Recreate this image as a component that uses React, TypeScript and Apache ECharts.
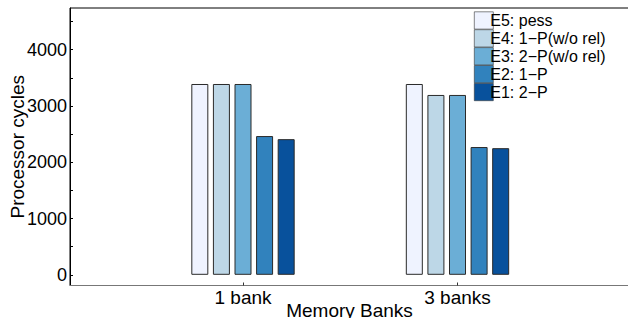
import React, { useEffect, useRef } from "react";
import * as echarts from "echarts";

const categories = ["1 bank", "3 banks"];
const categoryPositions = [1, 2];
const seriesNames = ["E5: pess", "E4: 1−P(w/o rel)", "E3: 2−P(w/o rel)", "E2: 1−P", "E1: 2−P"];
const e5Values = [3390, 3390];
const e4Values = [3390, 3195];
const e3Values = [3390, 3195];
const e2Values = [2465, 2270];
const e1Values = [2410, 2250];
const seriesColors = ["#eff3ff", "#bdd7e7", "#6baed6", "#3182bd", "#08519c"];
const yTickLabels = [0, 1000, 2000, 3000, 4000];
const yMinorTicks = [0, 500, 1000, 1500, 2000, 2500, 3000, 3500, 4000, 4500];

const FONT = "Liberation Sans, Arial, Helvetica, sans-serif";

export default function App() {
  const ref = useRef<HTMLDivElement>(null);
  useEffect(() => {
    if (!ref.current) return;
    const chart = echarts.init(ref.current, null, { renderer: "svg" });
    const allValues = [e5Values, e4Values, e3Values, e2Values, e1Values];
    const series = allValues.map((vals, i) => ({
      type: "bar",
      name: seriesNames[i],
      data: vals.map((v, j) => [categoryPositions[j], v]),
      barWidth: 17,
      barGap: "27%",
      itemStyle: { color: seriesColors[i], borderColor: "#2a2a2a", borderWidth: 1 },
      emphasis: { disabled: true },
    }));
    chart.setOption({
      animation: false,
      textStyle: { fontFamily: FONT },
      grid: {
        left: 70,
        right: -1,
        top: 8,
        bottom: 32.5,
        containLabel: false,
        outerBoundsMode: "none",
        show: true,
        borderColor: "#000",
        borderWidth: 1,
        backgroundColor: "transparent",
      },
      legend: {
        orient: "vertical",
        left: 474,
        top: 11.5,
        itemWidth: 19,
        itemHeight: 17.3,
        itemGap: 0,
        padding: 0,
        backgroundColor: "#fff",
        itemStyle: { borderWidth: 0.6, borderColor: "#333" },
        textStyle: { fontSize: 16, color: "#000", fontFamily: FONT, padding: [0, 0, 0, -8] },
        data: seriesNames.map((n) => ({ name: n, icon: "rect" })),
      },
      xAxis: {
        type: "value",
        min: 0.19347,
        max: 2.7995,
        name: "Memory Banks",
        nameLocation: "middle",
        nameGap: 15,
        nameMoveOverlap: false,
        nameTextStyle: { fontSize: 19, color: "#000", fontFamily: FONT },
        axisLine: { show: true, onZero: false, lineStyle: { color: "#777", width: 1 } },
        axisTick: { show: true, inside: true, length: 3, customValues: categoryPositions, lineStyle: { color: "#333" } },
        axisLabel: {
          customValues: categoryPositions,
          formatter: (v: number) => categories[categoryPositions.indexOf(v)] ?? "",
          fontSize: 19,
          color: "#000",
          margin: 2,
          fontFamily: FONT,
        },
        splitLine: { show: false },
      },
      yAxis: {
        type: "value",
        min: -190,
        max: 4740,
        name: "Processor cycles",
        nameLocation: "middle",
        nameGap: 43,
        nameMoveOverlap: false,
        nameTextStyle: { fontSize: 19, color: "#000", fontFamily: FONT },
        axisLine: { show: true, onZero: false, lineStyle: { color: "#000", width: 1 } },
        axisTick: { show: true, inside: true, length: 3, customValues: yMinorTicks, lineStyle: { color: "#000" } },
        axisLabel: {
          customValues: yTickLabels,
          formatter: (v: number) => String(v),
          fontSize: 18,
          color: "#000",
          margin: 3,
          fontFamily: FONT,
        },
        splitLine: { show: false },
      },
      series,
    });
    return () => chart.dispose();
  }, []);
  return (
    <div
      ref={ref}
      style={{ position: "absolute", left: 0, top: 0, width: 628, height: 318, background: "#fff" }}
    />
  );
}
